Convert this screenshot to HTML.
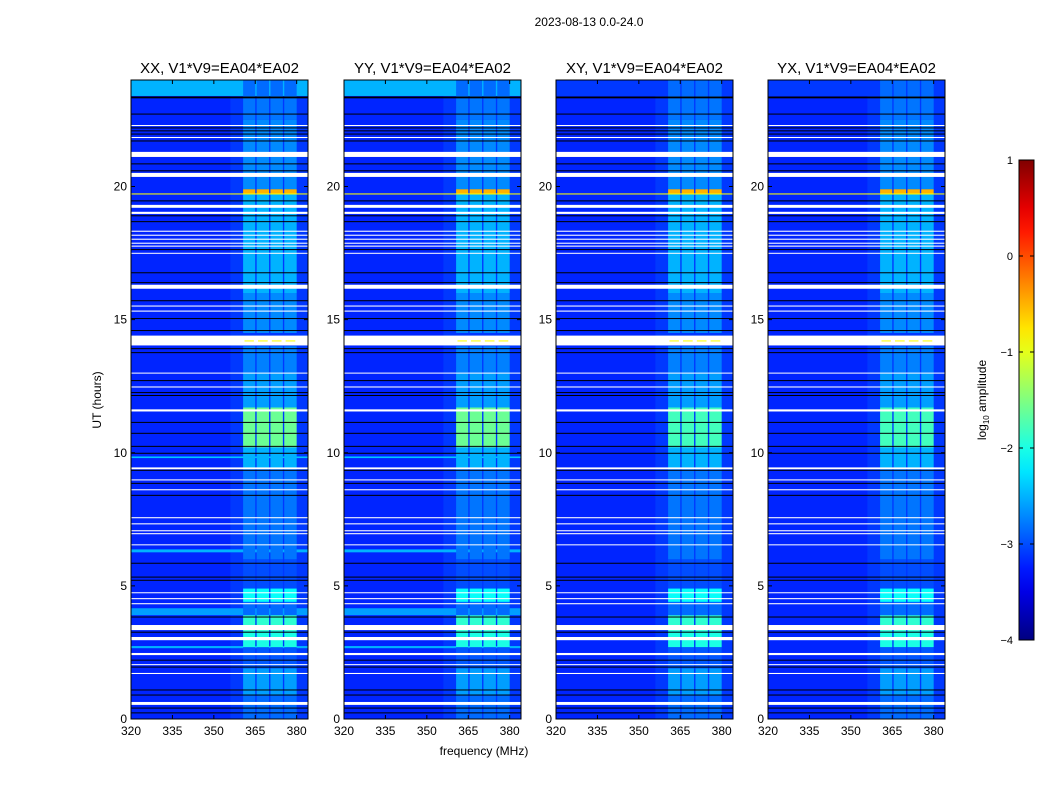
<!DOCTYPE html>
<html><head><meta charset="utf-8"><style>
body{margin:0;background:#fff;}
svg{display:block;font-family:"Liberation Sans",sans-serif;}
</style></head><body>
<svg id="fig" width="1050" height="800" viewBox="0 0 1050 800">
<text x="589" y="26" font-size="12" text-anchor="middle">2023-08-13 0.0-24.0</text>
<text x="484" y="755" font-size="12" text-anchor="middle">frequency (MHz)</text>
<text x="101" y="400" font-size="12" text-anchor="middle" transform="rotate(-90 101 400)">UT (hours)</text>
<text x="986" y="400" font-size="12" text-anchor="middle" transform="rotate(-90 986 400)">log<tspan font-size="8" dy="3">10</tspan><tspan dy="-3"> amplitude</tspan></text>
</svg>
<script>
// ---- data ----
const panelTitles = ["XX, V1*V9=EA04*EA02","YY, V1*V9=EA04*EA02","XY, V1*V9=EA04*EA02","YX, V1*V9=EA04*EA02"];
const xTicks = [320,335,350,365,380];
const yTicks = [0,5,10,15,20];
const cbTicks = [1,0,-1,-2,-3,-4];
const baseLevel = -3.2;
const bandRegionLevel = -3.1;
const bandRegion = [356,384.1];
const freqBands = [[360.6,365.0],[365.5,370.0],[370.5,375.0],[375.5,380.0]];
const bandLevels = [[0,0.9,-2.85],[0.9,1.9,-2.6],[1.9,2.7,-2.95],[2.7,3.3,-2.0],[3.3,3.9,-1.9],[3.9,4.4,-2.85],[4.4,4.9,-2.1],[4.9,6,-3.0],[6,9.4,-2.8],[9.4,10.2,-2.5],[10.2,11.7,-1.6],[11.7,13,-2.6],[13,14,-2.75],[14.5,16,-2.7],[16,19.7,-2.5],[19.7,19.9,-0.5],[19.9,22.5,-2.7],[22.5,23.4,-2.8],[23.4,24,-2.85]];
const cyanRows = [[23.4,24,-2.5],[9.80,9.86,-2.4],[6.26,6.37,-2.5],[3.90,4.16,-2.6],[2.66,2.74,-2.5]];
const cyanPanels = [true,true,false,false];
const yellowLine = [19.70,19.74,-0.9];
const whiteRows = [[22.27,22.31],[21.82,21.86],[21.11,21.30],[20.36,20.51],[19.20,19.31],[18.97,19.05],[18.30,18.34],[18.15,18.19],[18.00,18.04],[17.85,17.89],[17.74,17.78],[17.48,17.51],[16.16,16.31],[15.49,15.53],[15.30,15.34],[14.03,14.40],[12.98,13.01],[12.45,12.49],[11.55,11.63],[9.38,9.45],[8.96,9.0],[8.59,8.63],[7.54,7.58],[7.31,7.35],[7.05,7.09],[6.94,6.98],[6.53,6.56],[4.73,4.76],[4.50,4.54],[4.31,4.35],[3.34,3.53],[2.96,3.08],[2.40,2.48],[2.03,2.06],[1.69,1.73],[0.53,0.64]];
const blackRows = [23.36,23.33,22.72,22.20,22.09,21.97,21.71,20.85,20.59,19.46,18.90,18.68,17.63,16.76,16.39,15.71,15.04,14.59,13.91,13.76,12.71,12.26,12.15,11.14,10.73,10.24,9.98,9.34,8.85,8.40,5.85,5.33,5.21,3.83,3.26,2.21,1.95,1.09,0.90,0.41,0.23];

// ---- scales ----
const NS='http://www.w3.org/2000/svg';
const svg=document.getElementById('fig');
const panelLefts=[131,344,556,768], PW=177, PT=80, PH=639;
const fMin=320,fMax=384.1,tMin=0,tMax=24;
function xs(i,f){return panelLefts[i]+(f-fMin)/(fMax-fMin)*PW;}
function ys(h){return PT+PH-(h-tMin)/(tMax-tMin)*PH;}
function cl(v){return Math.max(0,Math.min(1,v));}
function jet(v){const t=(v+4)/5;return 'rgb('+Math.round(255*cl(1.5-Math.abs(4*t-3)))+','+Math.round(255*cl(1.5-Math.abs(4*t-2)))+','+Math.round(255*cl(1.5-Math.abs(4*t-1)))+')';}
function mk(tag,attrs,parent){const e=document.createElementNS(NS,tag);for(const k in attrs)e.setAttribute(k,attrs[k]);(parent||svg).appendChild(e);return e;}
function rectF(g,i,f0,f1,h0,h1,fill){const y0=ys(h1),y1=ys(h0);return mk('rect',{x:xs(i,f0),y:y0,width:xs(i,f1)-xs(i,f0),height:Math.max(1,y1-y0),fill:fill},g);}

for(let i=0;i<4;i++){
  const g=mk('g',{});
  
  
  let r=rectF(g,i,fMin,fMax,tMin,tMax,jet(baseLevel));
  
  
  r=rectF(g,i,bandRegion[0],bandRegion[1],tMin,tMax,jet(bandRegionLevel));
  
  
  if(cyanPanels[i]) cyanRows.forEach(c=>{
    const e=rectF(g,i,fMin,fMax,c[0],c[1],jet(c[2]));
    
    
  }); else { const e=rectF(g,i,fMin,fMax,23.4,24,jet(-3.1));   }
  freqBands.forEach(b=>bandLevels.forEach(l=>{
    const e=rectF(g,i,b[0],b[1],l[0],l[1],jet(i>=2&&l[2]<-1.4&&l[2]>-1.8?l[2]-0.2:l[2]));
    
    
  }));
  let yl=rectF(g,i,fMin,fMax,yellowLine[0],yellowLine[1],jet(yellowLine[2]));
  
  
  whiteRows.forEach(w=>{
    const e=rectF(g,i,fMin,fMax,w[0],w[1],'#fff');
    
    
  });
  freqBands.forEach(b=>{
    const e=rectF(g,i,b[0]+0.5,b[1]-0.5,14.18,14.22,jet(-0.9));
    
    
  });
  blackRows.forEach(b=>{
    const e=mk('rect',{x:panelLefts[i],y:ys(b)-0.5,width:PW,height:1,fill:'#000'},g);
    
    
  });
  const fr=mk('rect',{x:panelLefts[i],y:PT,width:PW,height:PH,fill:'none',stroke:'#000','stroke-width':1});
  
  
  const t=mk('text',{x:panelLefts[i]+PW/2,y:73,'font-size':15,'text-anchor':'middle'});
  t.textContent=panelTitles[i];
  
  
  xTicks.forEach(f=>{
    const x=xs(i,f);
    mk('line',{x1:x,x2:x,y1:PT+PH,y2:PT+PH-4,stroke:'#000'});
    mk('line',{x1:x,x2:x,y1:PT,y2:PT+4,stroke:'#000'});
    const tx=mk('text',{x:x,y:PT+PH+16,'font-size':12,'text-anchor':'middle'});
    tx.textContent=f;
    
    
  });
  yTicks.forEach(h=>{
    const y=ys(h);
    mk('line',{x1:panelLefts[i],x2:panelLefts[i]+4,y1:y,y2:y,stroke:'#000'});
    mk('line',{x1:panelLefts[i]+PW,x2:panelLefts[i]+PW-4,y1:y,y2:y,stroke:'#000'});
    const ty=mk('text',{x:panelLefts[i]-4,y:y+4,'font-size':12,'text-anchor':'end'});
    ty.textContent=h;
    
    
  });
}
// colorbar
const cbX=1019,cbW=15,cbT=160,cbH=480;
const defs=mk('defs',{});
const lg=mk('linearGradient',{id:'jet',x1:0,y1:1,x2:0,y2:0},defs);
for(let k=0;k<=20;k++){mk('stop',{offset:k/20,'stop-color':jet(-4+5*k/20)},lg);}
const cb=mk('rect',{x:cbX,y:cbT,width:cbW,height:cbH,fill:'url(#jet)',stroke:'#000','stroke-width':1});


cbTicks.forEach(v=>{
  const y=cbT+(1-v)/5*cbH;
  mk('line',{x1:cbX,x2:cbX+4,y1:y,y2:y,stroke:'#000'});
  mk('line',{x1:cbX+cbW,x2:cbX+cbW-4,y1:y,y2:y,stroke:'#000'});
  const t=mk('text',{x:cbX-6,y:y+4,'font-size':11,'text-anchor':'end'});
  t.textContent=v<0?'\u2212'+(-v):String(v);
  
  
});
</script>
</body></html>
